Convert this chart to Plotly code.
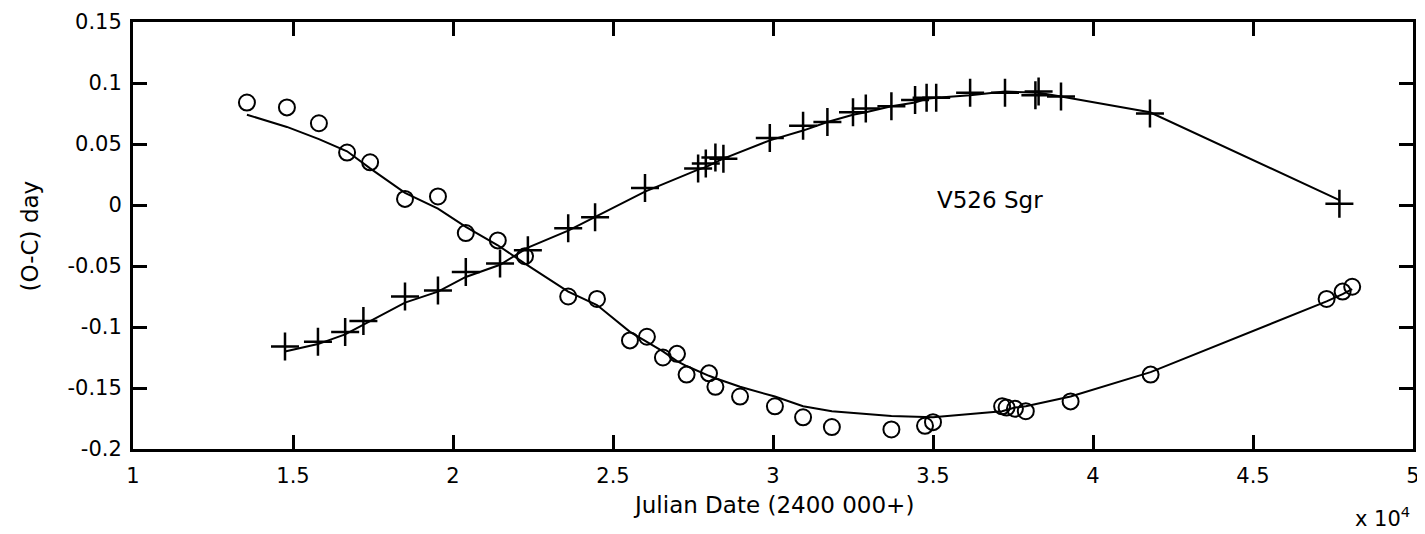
import plotly.graph_objects as go

# V526 Sgr O-C diagram, Julian Date - 2400000
# primary minima (circles)
jd_prim = [13560, 14810, 15810, 16690, 17410, 18500, 19530, 20400, 21400, 22250,
           23600, 24500, 25530, 26060, 26560, 27000, 27300, 28000, 28200, 28970,
           30060, 30940, 31840, 33700, 34750, 35000, 37160, 37300, 37560, 37900,
           39300, 41800, 47300, 47800, 48100]
oc_prim = [0.084, 0.080, 0.067, 0.043, 0.035, 0.005, 0.007, -0.023, -0.029, -0.042,
           -0.075, -0.077, -0.111, -0.108, -0.125, -0.122, -0.139, -0.138, -0.149, -0.157,
           -0.165, -0.174, -0.182, -0.184, -0.181, -0.178, -0.165, -0.166, -0.167, -0.169,
           -0.161, -0.139, -0.077, -0.071, -0.067]
fit_prim = [0.074, 0.064, 0.054, 0.044, 0.030, 0.010, -0.003, -0.018, -0.033, -0.048,
            -0.071, -0.082, -0.104, -0.112, -0.120, -0.128, -0.132, -0.140, -0.142, -0.149,
            -0.157, -0.165, -0.169, -0.173, -0.174, -0.174, -0.169, -0.168, -0.166, -0.165,
            -0.157, -0.137, -0.079, -0.073, -0.069]

# secondary minima (plus signs)
jd_sec = [14750, 15780, 16630, 17200, 18500, 19530, 20400, 21470, 22340, 23600,
          24440, 26000, 27660, 27900, 28200, 28450, 29900, 30940, 31700, 32500,
          32900, 33700, 34440, 34800, 35100, 36160, 37250, 38200, 38300, 39000,
          41780, 47700]
oc_sec = [-0.116, -0.112, -0.104, -0.095, -0.075, -0.070, -0.055, -0.048, -0.037, -0.019,
          -0.010, 0.014, 0.030, 0.034, 0.039, 0.038, 0.055, 0.065, 0.068, 0.076,
          0.079, 0.081, 0.086, 0.088, 0.088, 0.092, 0.092, 0.090, 0.093, 0.089,
          0.075, 0.001]
fit_sec = [-0.120, -0.114, -0.106, -0.098, -0.080, -0.071, -0.059, -0.049, -0.035, -0.021,
           -0.010, 0.011, 0.029, 0.031, 0.035, 0.038, 0.053, 0.061, 0.068, 0.074,
           0.076, 0.081, 0.084, 0.087, 0.088, 0.090, 0.093, 0.092, 0.092, 0.089,
           0.076, 0.004]

x_ticks = [10000, 15000, 20000, 25000, 30000, 35000, 40000, 45000, 50000]
x_labels = ["1", "1.5", "2", "2.5", "3", "3.5", "4", "4.5", "5"]
y_ticks = [-0.2, -0.15, -0.1, -0.05, 0, 0.05, 0.1, 0.15]
y_labels = ["-0.2", "-0.15", "-0.1", "-0.05", "0", "0.05", "0.1", "0.15"]

tick_font = dict(family="DejaVu Sans", size=21, color="black")
text_font = dict(family="DejaVu Sans", size=23, color="black")

fig = go.Figure()

fig.add_trace(go.Scatter(x=jd_prim, y=fit_prim, mode="lines",
                         line=dict(color="black", width=2)))
fig.add_trace(go.Scatter(x=jd_sec, y=fit_sec, mode="lines",
                         line=dict(color="black", width=2)))
fig.add_trace(go.Scatter(x=jd_prim, y=oc_prim, mode="markers",
                         marker=dict(symbol="circle-open", size=16, color="black",
                                     line=dict(width=2, color="black"))))
fig.add_trace(go.Scatter(x=jd_sec, y=oc_sec, mode="markers",
                         marker=dict(symbol="cross-thin-open", size=20, color="black",
                                     line=dict(width=2.5, color="black"))))

axis_style = dict(showline=True, linecolor="black", linewidth=3, mirror="allticks",
                  ticks="inside", ticklen=14, tickwidth=3, tickcolor="black",
                  showgrid=False, zeroline=False, tickfont=tick_font)

fig.update_xaxes(range=[10000, 50000], tickvals=x_ticks, ticktext=x_labels,
                 ticklabelstandoff=6, **axis_style)
fig.update_yaxes(range=[-0.2, 0.15], tickvals=y_ticks, ticktext=y_labels,
                 ticklabelstandoff=4, **axis_style)

fig.add_annotation(x=35060, y=0.004, xref="x", yref="y", text="V526 Sgr",
                   showarrow=False, xanchor="left", yanchor="middle", font=text_font)
fig.add_annotation(x=-0.0805, y=0.5, xref="paper", yref="paper", text="(O-C) day",
                   showarrow=False, textangle=-90, xanchor="center", yanchor="middle",
                   font=text_font)
fig.add_annotation(x=0.5, y=-0.131, xref="paper", yref="paper",
                   text="Julian Date (2400 000+)", showarrow=False,
                   xanchor="center", yanchor="middle", font=text_font)
fig.add_annotation(x=0.999, y=-0.16, xref="paper", yref="paper", text="x 10<sup>4</sup>",
                   showarrow=False, xanchor="right", yanchor="middle", font=tick_font)

# page body adds an 8px offset, so the figure is trimmed by that amount
fig.update_layout(width=1417, height=526, showlegend=False,
                  margin=dict(l=125, r=12, t=14, b=85, autoexpand=False),
                  plot_bgcolor="white", paper_bgcolor="white")

fig.write_html("out.html")
